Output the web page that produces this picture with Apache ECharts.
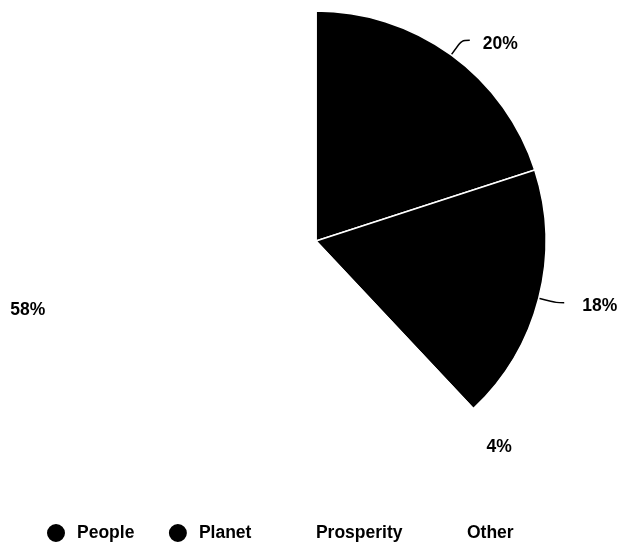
<!DOCTYPE html>
<html>
<head>
<meta charset="utf-8">
<script src="https://cdn.jsdelivr.net/npm/echarts@6/dist/echarts.min.js"></script>
<style>html,body{margin:0;padding:0;background:#fff}#c{width:618px;height:544px}</style>
</head>
<body>
<div id="c"></div>
<script>
const categories = ['People', 'Planet', 'Prosperity', 'Other'];
const values = [20, 18, 4, 58];
const colors = ['#000000', '#000000', '#ffffff', '#ffffff'];

const lineLen1 = [18, 18, 21, 34];
const lineLen2 = [8, 8, 8, 0];
const labelGap = [13, 18, 15, 15];

const chart = echarts.init(document.getElementById('c'), null, {renderer: 'canvas'});
const font = 'Liberation Sans, Arial, sans-serif';
chart.setOption({
  animation: false,
  color: colors,
  legend: {
    left: 40,
    top: 517,
    itemWidth: 32,
    itemHeight: 20,
    itemGap: 32.5,
    icon: 'circle',
    data: categories,
    textStyle: {fontFamily: font, fontWeight: 'bold', fontSize: 17.5, color: '#000'}
  },
  series: [{
    type: 'pie',
    center: [316, 241],
    radius: [0, 230],
    startAngle: 90,
    clockwise: true,
    avoidLabelOverlap: false,
    emphasis: {disabled: true},
    itemStyle: {borderColor: '#ffffff', borderWidth: 1.5},
    label: {
      show: true,
      formatter: '{v|{c}%}',
      fontFamily: font,
      fontWeight: 'bold',
      fontSize: 17.5,
      color: '#000',
      distanceToLabelLine: 15,
      rich: {
        v: {fontFamily: font, fontWeight: 'bold', fontSize: 17.5, color: '#000', padding: [7, 0, 0, 0]}
      }
    },
    labelLine: {show: true, length: 18, length2: 8, smooth: true, lineStyle: {width: 1.5}},
    data: categories.map((n, i) => ({
      name: n,
      value: values[i],
      label: {distanceToLabelLine: labelGap[i]},
      labelLine: {length: lineLen1[i], length2: lineLen2[i]}
    }))
  }]
});
</script>
</body>
</html>
